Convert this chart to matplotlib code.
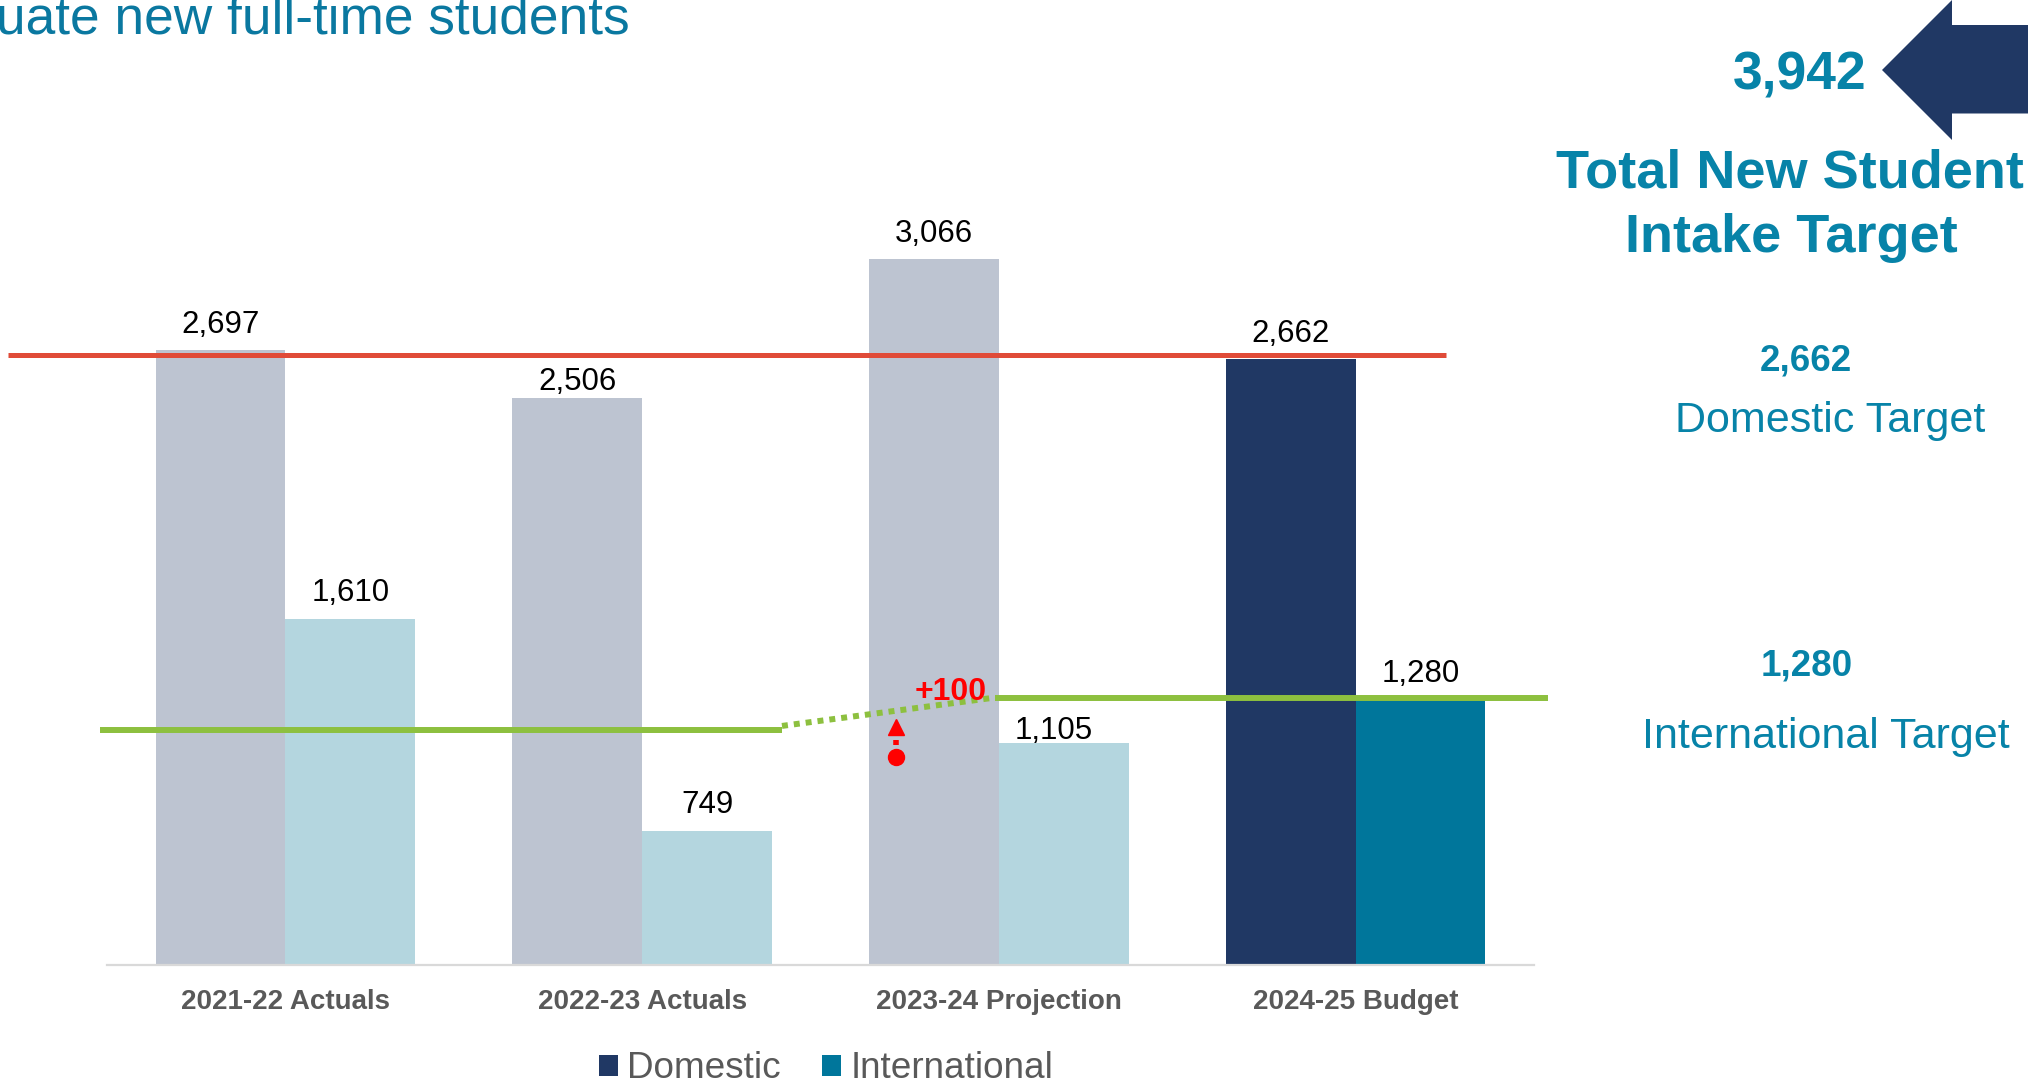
import matplotlib
matplotlib.use("Agg")
import matplotlib.pyplot as plt
from matplotlib.patches import Polygon, Patch
import numpy as np

plt.rcParams['font.family'] = ['Liberation Sans', 'DejaVu Sans']

# ---------------- data ----------------
categories = ['2021-22 Actuals', '2022-23 Actuals', '2023-24 Projection', '2024-25 Budget']
domestic = [2697, 2506, 3066, 2662]
international = [1610, 749, 1105, 1280]
total_target = 3942
domestic_target = 2662
international_target = 1280
red_line_level = 2679          # drawn domestic-target line
green_prev_level = 1160        # earlier international target line
green_new_level = 1290         # new international target line
increase_label = '+100'

# ---------------- style ----------------
W, H = 2028, 1083
DPI = 100
dom_colors = ['#BDC4D1', '#BDC4D1', '#BDC4D1', '#203864']
int_colors = ['#B4D6DF', '#B4D6DF', '#B4D6DF', '#00769B']
# label offsets (points) above bar tops: (dx, dy)
dom_label_off = [(0, 12.5), (0, 5.2), (0, 12.5), (0, 12.5)]
int_label_off = [(0, 13), (0, 13), (-7.4, 2.8), (0, 13)]
TEAL = '#0783A8'
NAVY = '#203864'
RED_LINE = '#E04B38'
GREEN = '#8DC03F'
GRAY_TXT = '#595959'

def fx(px):
    return px / W

def fy(py):
    return (H - py) / H

fig = plt.figure(figsize=(W / DPI, H / DPI), dpi=DPI)
ax = fig.add_axes([fx(107), fy(965), (1534 - 107) / W, (965 - 100) / H])

x = np.arange(len(categories))
bw = 0.364
ax.bar(x - bw / 2, domestic, width=bw, color=dom_colors, zorder=2)
ax.bar(x + bw / 2, international, width=bw, color=int_colors, zorder=2)

ax.set_xlim(-0.5, 3.5)
ax.set_ylim(206, 3712)

# data labels
for xi, v, off in zip(x - bw / 2, domestic, dom_label_off):
    ax.annotate(f'{v:,}', (xi, v), xytext=off, textcoords='offset points',
                ha='center', va='baseline', fontsize=22.5, color='black', zorder=5)
for xi, v, off in zip(x + bw / 2, international, int_label_off):
    ax.annotate(f'{v:,}', (xi, v), xytext=off, textcoords='offset points',
                ha='center', va='baseline', fontsize=22.5, color='black', zorder=5)

# red domestic target line
ax.plot([-0.777, 3.253], [red_line_level, red_line_level], color=RED_LINE, lw=3.6,
        solid_capstyle='butt', zorder=4, clip_on=False)

# green international target lines
ax.plot([-0.52, 1.392], [green_prev_level, green_prev_level], color=GREEN, lw=4.3,
        solid_capstyle='butt', zorder=4, clip_on=False)
ax.plot([1.392, 1.989], [green_prev_level + 15, green_new_level], color=GREEN, lw=4.3,
        linestyle=(0, (1.0, 1.0)), dash_capstyle='butt', zorder=4, clip_on=False)
ax.plot([1.989, 3.539], [green_new_level, green_new_level], color=GREEN, lw=4.3,
        solid_capstyle='butt', zorder=4, clip_on=False)

# red increase arrow
ax_x = 1.712
ax.plot([ax_x], [1049], marker='o', markersize=11.5, color='#FF0000', zorder=6)
ax.plot([ax_x, ax_x], [1098, 1118], color='#FF0000', lw=4, solid_capstyle='butt', zorder=6)
ax.plot([ax_x], [1169], marker='^', markersize=11.5, color='#FF0000', zorder=6)
ax.text(1.866, 1280, increase_label, ha='center', va='baseline', fontsize=23,
        fontweight='bold', color='#FF0000', zorder=7)

# axes styling
for s in ['top', 'right', 'left']:
    ax.spines[s].set_visible(False)
ax.spines['bottom'].set_color('#D9D9D9')
ax.spines['bottom'].set_linewidth(1.6)
ax.set_yticks([])
ax.set_xticks(x)
ax.set_xticklabels(categories, fontsize=20, fontweight='bold', color=GRAY_TXT)
ax.tick_params(axis='x', length=0, pad=17.5)

# legend
handles = [Patch(facecolor=NAVY, edgecolor='none'), Patch(facecolor='#00769B', edgecolor='none')]
leg = fig.legend(handles, ['Domestic', 'International'], loc='center',
                 bbox_to_anchor=(fx(826), fy(1069)), ncol=2, frameon=False,
                 fontsize=26.6, handlelength=0.52, handleheight=0.52,
                 handletextpad=0.25, columnspacing=1.1, borderpad=0, borderaxespad=0)
for t in leg.get_texts():
    t.set_color(GRAY_TXT)

# title fragment (cut off at the left edge in the reference)
fig.text(fx(630), fy(33.5), 'uate new full-time students', ha='right', va='baseline',
         fontsize=38.3, color='#0A78A0')

# right-hand panel
arrow_px = [(1882, 70), (1952, 0), (1952, 25), (2040, 25), (2040, 113.5),
            (1952, 113.5), (1952, 140)]
fig.patches.append(Polygon([(fx(a), fy(b)) for a, b in arrow_px], closed=True,
                           transform=fig.transFigure, facecolor=NAVY, edgecolor='none'))

fig.text(fx(1800), fy(89), f'{total_target:,}', ha='center', va='baseline',
         fontsize=38.5, fontweight='bold', color=TEAL)
fig.text(fx(1790), fy(187), 'Total New Student', ha='center', va='baseline',
         fontsize=39, fontweight='bold', color=TEAL)
fig.text(fx(1791), fy(252), 'Intake Target', ha='center', va='baseline',
         fontsize=39, fontweight='bold', color=TEAL)
fig.text(fx(1806), fy(371), f'{domestic_target:,}', ha='center', va='baseline',
         fontsize=26.5, fontweight='bold', color=TEAL)
fig.text(fx(1830), fy(431.7), 'Domestic Target', ha='center', va='baseline',
         fontsize=31, color=TEAL)
fig.text(fx(1807), fy(675.7), f'{international_target:,}', ha='center', va='baseline',
         fontsize=26.5, fontweight='bold', color=TEAL)
fig.text(fx(1826), fy(748), 'International Target', ha='center', va='baseline',
         fontsize=31, color=TEAL)

fig.savefig('out.png', dpi=DPI)
